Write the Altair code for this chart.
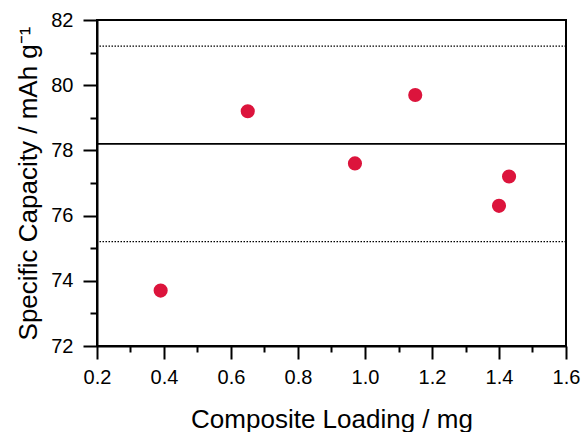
import altair as alt
import pandas as pd

loading = [0.39, 0.65, 0.97, 1.15, 1.40, 1.43]
capacity = [73.7, 79.2, 77.6, 79.7, 76.3, 77.2]
mean_value = [78.2]
band_values = [81.2, 75.2]
x_major = [0.2, 0.4, 0.6, 0.8, 1.0, 1.2, 1.4, 1.6]
x_minor = [0.3, 0.5, 0.7, 0.9, 1.1, 1.3, 1.5]
y_major = [72, 74, 76, 78, 80, 82]
y_minor = [73, 75, 77, 79, 81]

pts = pd.DataFrame({"x": loading, "y": capacity})
mean_df = pd.DataFrame({"y": mean_value})
band_df = pd.DataFrame({"y": band_values})

FONT = "Liberation Sans"

x_scale = alt.Scale(domain=[0.2, 1.6], nice=False, zero=False)
y_scale = alt.Scale(domain=[72, 82], nice=False, zero=False)

x_axis = alt.Axis(
    orient="bottom",
    title="Composite Loading / mg",
    values=x_major,
    format=".1f",
    tickSize=13,
    grid=False,
    labelPadding=8,
    labelFontSize=20,
    titleFontSize=26,
    titleFontWeight="normal",
    titleY=81,
    titleBaseline="alphabetic",
    labelFlush=False,
    labelOverlap=False,
)
y_axis = alt.Axis(
    orient="left",
    title="Specific Capacity / mAh g⁻¹",
    values=y_major,
    format="d",
    tickSize=14,
    grid=False,
    labelPadding=10,
    labelFontSize=20,
    titleFontSize=26,
    titleFontWeight="normal",
    titleX=-61,
    titleBaseline="alphabetic",
    labelFlush=False,
    labelOverlap=False,
)
x_minor_axis = alt.Axis(
    orient="bottom", title=None, values=x_minor, tickSize=6, labels=False,
    domain=False, grid=False,
)
y_minor_axis = alt.Axis(
    orient="left", title=None, values=y_minor, tickSize=7, labels=False,
    domain=False, grid=False,
)

minor = alt.Chart(pts).mark_circle(opacity=0).encode(
    x=alt.X("x:Q", scale=x_scale, axis=x_minor_axis),
    y=alt.Y("y:Q", scale=y_scale, axis=y_minor_axis),
)

points = alt.Chart(pts).mark_circle(size=200, color="#DC143C", opacity=1).encode(
    x=alt.X("x:Q", scale=x_scale, axis=x_axis),
    y=alt.Y("y:Q", scale=y_scale, axis=y_axis),
)

mean_rule = alt.Chart(mean_df).mark_rule(color="black", strokeWidth=1.8).encode(
    y=alt.Y("y:Q", scale=y_scale, axis=None)
)
band_rule = alt.Chart(band_df).mark_rule(color="black", strokeWidth=1.3, strokeDash=[1.5, 1.5]).encode(
    y=alt.Y("y:Q", scale=y_scale, axis=None)
)

chart = alt.layer(points, minor, band_rule, mean_rule).resolve_axis(
    x="independent", y="independent"
).properties(
    width=469,
    height=326,
    autosize=alt.AutoSizeParams(type="none"),
    padding={"left": 97, "top": 20, "right": 16, "bottom": 86},
).configure_view(
    stroke="black", strokeWidth=2
).configure_axis(
    domainColor="black",
    domainWidth=2,
    tickColor="black",
    tickWidth=2,
    labelColor="black",
    titleColor="black",
    labelFont=FONT,
    titleFont=FONT,
)

chart.save("out.html", embed_options={"renderer": "svg", "actions": False})
